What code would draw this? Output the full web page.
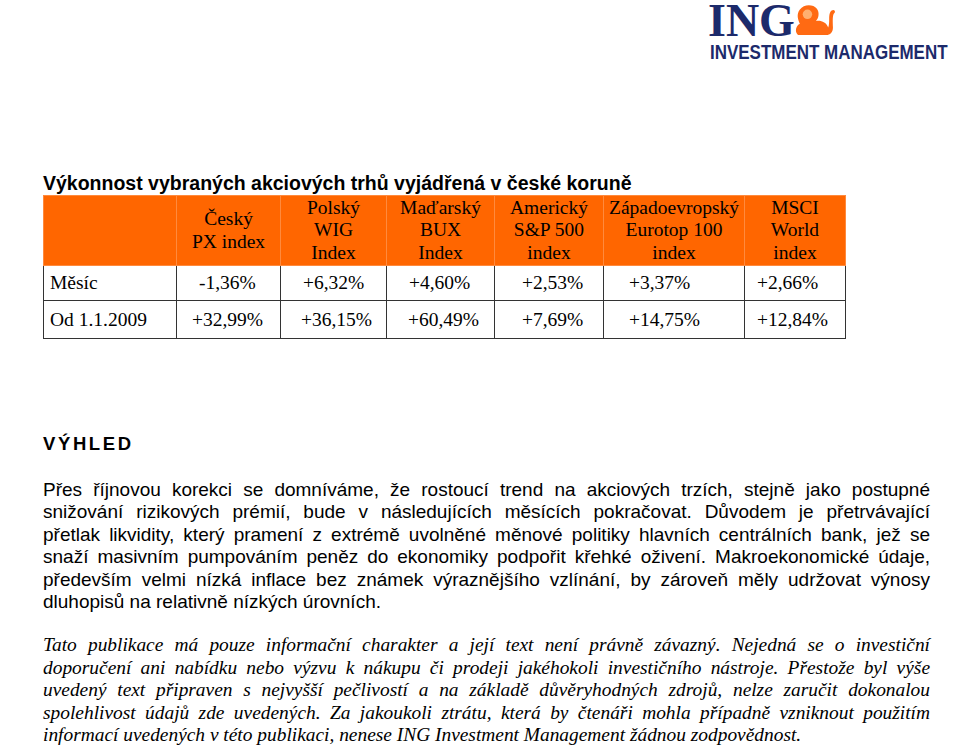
<!DOCTYPE html>
<html><head><meta charset="utf-8">
<script src="https://cdn.jsdelivr.net/npm/chart.js@4/dist/chart.umd.min.js"></script>
<style>
html,body{margin:0;padding:0;background:#fff;width:960px;height:747px;overflow:hidden;position:relative;}
.abs{position:absolute;white-space:nowrap;}
#logo1{left:708px;top:0px;font-family:"Liberation Serif",serif;font-weight:bold;font-size:46px;line-height:42px;color:#1c2a6b;}
#logo2{left:710px;top:42px;font-family:"Liberation Sans",Arial,sans-serif;font-weight:bold;font-size:19.5px;line-height:20px;color:#1c2a6b;transform:scaleX(0.87);transform-origin:0 0;}
#title{left:43px;top:172px;font-family:"Liberation Sans",Arial,sans-serif;font-weight:bold;font-size:19.5px;color:#000;}
table{position:absolute;left:43px;top:195px;border-collapse:collapse;font-family:"Liberation Serif","Times New Roman",serif;font-size:19.5px;color:#000;}
td{padding:0;border:1px solid #333;white-space:nowrap;}
tr.h td{background:#ff6600;text-align:center;line-height:22.5px;border:1px solid #ff8a3d;vertical-align:middle;}
#vh{left:43px;top:433px;font-family:"Liberation Sans",Arial,sans-serif;font-weight:bold;font-size:18.5px;letter-spacing:2.6px;color:#000;}
.para{position:absolute;left:43px;width:887px;color:#000;}
.para div{text-align:justify;text-align-last:justify;white-space:nowrap;}
.para div.last{text-align-last:left;}
#body{top:479px;font-family:"Liberation Sans",Arial,sans-serif;font-size:19px;line-height:22.4px;}
#disc{top:634px;font-family:"Liberation Serif","Times New Roman",serif;font-style:italic;font-size:19.4px;line-height:22.5px;}
</style></head><body>
<div class="abs" id="logo1">ING</div>
<svg class="abs" style="left:790px;top:3px" width="50" height="34" viewBox="0 0 52 36">
 <path d="M8 34 C4 30 6 24 10 22 C8 18 6 12 10 7 C14 1 24 1 28 6 C31 10 30 16 27 19 C32 18 38 20 40 26 C42 20 40 14 42 10 C44 6 48 7 47 10 C44 12 45 20 45 26 C45 31 42 34 38 34 Z" fill="#ff6a13"/>
 <circle cx="18" cy="12" r="5" fill="#ffb070"/>
</svg>
<div class="abs" id="logo2">INVESTMENT MANAGEMENT</div>
<div class="abs" id="title">Výkonnost vybraných akciových trhů vyjádřená v české koruně</div>
<table id="tbl"></table>
<div class="abs" id="vh">VÝHLED</div>
<div class="para" id="body">
<div>Přes říjnovou korekci se domníváme, že rostoucí trend na akciových trzích, stejně jako postupné</div>
<div>snižování rizikových prémií, bude v&nbsp;následujících měsících pokračovat. Důvodem je přetrvávající</div>
<div>přetlak likvidity, který pramení z&nbsp;extrémě uvolněné měnové politiky hlavních centrálních bank, jež se</div>
<div>snaží masivním pumpováním peněz do ekonomiky podpořit křehké oživení. Makroekonomické údaje,</div>
<div>především velmi nízká inflace bez známek výraznějšího vzlínání, by zároveň měly udržovat výnosy</div>
<div class="last">dluhopisů na relativně nízkých úrovních.</div>
</div>
<div class="para" id="disc">
<div>Tato publikace má pouze informační charakter a její text není právně závazný. Nejedná se o&nbsp;investiční</div>
<div>doporučení ani nabídku nebo výzvu k nákupu či prodeji jakéhokoli investičního nástroje. Přestože byl výše</div>
<div>uvedený text připraven s nejvyšší pečlivostí a na základě důvěryhodných zdrojů, nelze zaručit dokonalou</div>
<div>spolehlivost údajů zde uvedených. Za jakoukoli ztrátu, která by čtenáři mohla případně vzniknout použitím</div>
<div class="last">informací uvedených v této publikaci, nenese ING Investment Management žádnou zodpovědnost.</div>
</div>
<script>
const indices = ["Český<br>PX index","Polský<br>WIG<br>Index","Maďarský<br>BUX<br>Index","Americký<br>S&amp;P 500<br>index","Západoevropský<br>Eurotop 100<br>index","MSCI<br>World<br>index"];
const periods = ["Měsíc","Od 1.1.2009"];
const monthReturn = ["-1,36%","+6,32%","+4,60%","+2,53%","+3,37%","+2,66%"];
const ytdReturn = ["+32,99%","+36,15%","+60,49%","+7,69%","+14,75%","+12,84%"];
const colW = [132,103,105,107,108,140,100];
const padM = [22,22,22,27,25,12];
const padY = [15,20,21,27,25,12];
const tbl = document.getElementById('tbl');
let h = '<tr class="h" style="height:70px"><td style="width:'+colW[0]+'px"></td>';
indices.forEach((t,i)=>{h+='<td style="width:'+colW[i+1]+'px">'+t+'</td>';});
h+='</tr>';
const rows=[monthReturn,ytdReturn], rh=[35,38], pads=[padM,padY];
rows.forEach((r,k)=>{
  h+='<tr style="height:'+rh[k]+'px"><td style="padding-left:6px">'+periods[k]+'</td>';
  r.forEach((v,i)=>{h+='<td style="padding-left:'+pads[k][i]+'px">'+v+'</td>';});
  h+='</tr>';
});
tbl.innerHTML=h;
</script>
</body></html>
